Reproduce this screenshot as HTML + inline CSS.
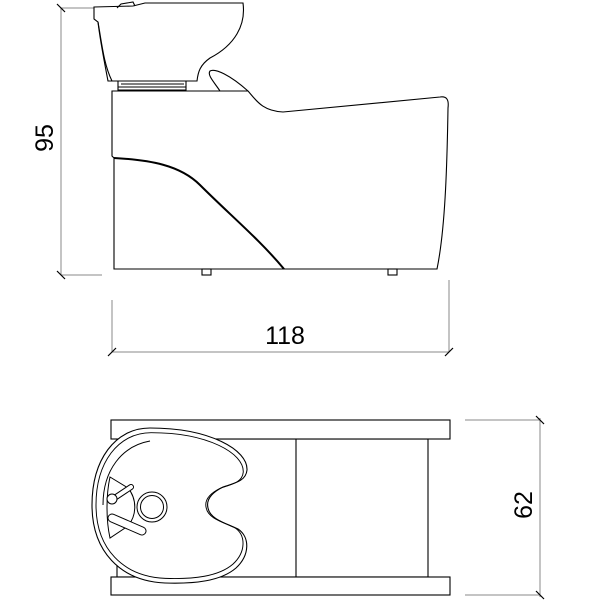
<!DOCTYPE html>
<html><head><meta charset="utf-8"><style>
html,body{margin:0;padding:0;background:#fff;}
svg{display:block;}
text{font-family:"Liberation Sans",sans-serif;fill:#000;}
</style></head><body>
<svg width="600" height="600" viewBox="0 0 600 600" xmlns="http://www.w3.org/2000/svg">
<g fill="none" stroke="#888" stroke-width="1">
  <line x1="61" y1="8" x2="61" y2="275"/>
  <line x1="61" y1="8" x2="95" y2="8"/>
  <line x1="61" y1="275" x2="102" y2="275"/>
  <line x1="112" y1="300" x2="112" y2="352"/>
  <line x1="449" y1="280" x2="449" y2="352"/>
  <line x1="112" y1="352" x2="449" y2="352"/>
  <line x1="465" y1="420" x2="540" y2="420"/>
  <line x1="465" y1="595" x2="540" y2="595"/>
  <line x1="540" y1="418" x2="540" y2="597"/>
</g>
<g stroke="#000" stroke-width="1.2">
  <line x1="57" y1="4" x2="65" y2="12"/>
  <line x1="57" y1="271" x2="65" y2="279"/>
  <line x1="108" y1="356" x2="116" y2="348"/>
  <line x1="445" y1="356" x2="453" y2="348"/>
  <line x1="536" y1="416" x2="544" y2="424"/>
  <line x1="536" y1="591" x2="544" y2="599"/>
</g>
<text x="45" y="138" font-size="25" text-anchor="middle" transform="rotate(-90 45 138)" dominant-baseline="central">95</text>
<text x="285" y="344" font-size="25" text-anchor="middle">118</text>
<text x="524" y="505" font-size="25" text-anchor="middle" transform="rotate(-90 524 505)" dominant-baseline="central">62</text>

<!-- side view -->
<g fill="none" stroke="#000" stroke-width="1.1">
  <path d="M112,156 L112,91 L248,91 C256,100 262,111 283,112 L440,97 C447,96 449,100 448,108 C447,170 445,230 437,269 L114,269 L114,158 Z" fill="#fff"/>
  <path d="M114,158 C150,160 180,165 200,185 C230,215 260,240 284,269" stroke-width="2"/>
  <rect x="202" y="269" width="9" height="6"/>
  <rect x="388" y="269" width="9" height="6"/>
  <path d="M94,7 L133,6 L145,3 L243,3 C246,25 235,45 210,58 C200,65 198,72 197,81 L108,81 C104,60 100,40 98,22 L94,19 Z" fill="#fff"/>
  <path d="M98,22 C102,45 104,65 112,81"/>
  <path d="M117,8 L121,4 L133,2 L135,6"/>
  <path d="M118,81 L118,90 L186,90 L186,81 M121,84 L184,84 M118,87 L186,87"/>
  <path d="M220,91 C214,82 207,75 210,71 C215,68 230,75 248,91"/>
</g>

<!-- top view -->
<g fill="#fff" stroke="#000" stroke-width="1.1">
  <rect x="117" y="439" width="311" height="138"/>
  <line x1="296" y1="439" x2="296" y2="577"/>
  <rect x="111" y="420" width="339" height="19"/>
  <rect x="111" y="577" width="339" height="18"/>
</g>
<path id="basin" d="M150,428 C210,428 248,450 247,470 C246,481 235,483 223,487 C211,493 206,500 208,508 C210,519 225,523 238,529 C250,537 250,555 236,568 C221,581 195,584 165,583 C120,581 92,551 92,505 C92,460 115,428 150,428 Z" fill="#fff" stroke="#000" stroke-width="1.1"/>
<path d="M150,428 C210,428 248,450 247,470 C246,481 235,483 223,487 C211,493 206,500 208,508 C210,519 225,523 238,529 C250,537 250,555 236,568 C221,581 195,584 165,583 C120,581 92,551 92,505 C92,460 115,428 150,428 Z" fill="none" stroke="#000" stroke-width="1" transform="translate(172,506) scale(0.95 0.94) translate(-172,-506)"/>
<g fill="#fff" stroke="#000" stroke-width="1">
  <path d="M103,505 C103,470 122,446 150,441" fill="none"/>
  <path d="M110,477 L128,488 A30,30 0 0 1 128,526 L110,538 C106,520 106,495 110,477 Z"/>
  <circle cx="152" cy="507" r="15"/>
  <circle cx="152" cy="507" r="11.5"/>
  <line x1="116" y1="497" x2="131" y2="487" stroke-width="6" stroke-linecap="round"/>
  <line x1="116" y1="497" x2="131" y2="487" stroke="#fff" stroke-width="4" stroke-linecap="round"/>
  <circle cx="112" cy="499" r="5"/>
  <line x1="112" y1="518" x2="142" y2="531" stroke-width="9" stroke-linecap="round"/>
  <line x1="112" y1="518" x2="142" y2="531" stroke="#fff" stroke-width="7" stroke-linecap="round"/>
</g>
</svg>
</body></html>
